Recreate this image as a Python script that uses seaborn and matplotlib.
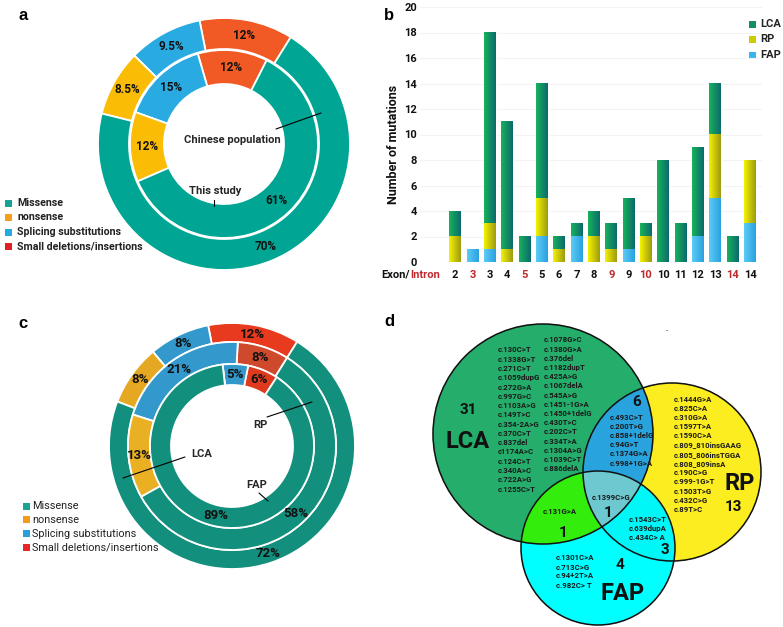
import numpy as np
import pandas as pd
import matplotlib
matplotlib.use("Agg")
import matplotlib.pyplot as plt
from matplotlib.patches import Rectangle, Circle
from matplotlib.colors import LinearSegmentedColormap, to_rgba
import seaborn as sns

sns.set_theme(style="white")
plt.rcParams["font.family"] = ["Roboto", "DejaVu Sans"]

W, H = 783, 627

# ---------------- data ----------------
mut_types = ["Missense", "nonsense", "Splicing substitutions", "Small deletions/insertions"]
# percentages in order: missense, nonsense, splicing, small del/ins
chinese_pct = [70, 8.5, 9.5, 12]
study_pct = [61, 12, 15, 12]
lca_pct = [72, 8, 8, 12]
rp_pct = [58, 13, 21, 8]
fap_pct = [89, 0, 5, 6]

exon_labels = ["2", "3", "3", "4", "5", "5", "6", "7", "8", "9", "9", "10", "10", "11", "12", "13", "14", "14"]
is_intron = [0, 1, 0, 0, 1, 0, 0, 0, 0, 1, 0, 1, 0, 0, 0, 0, 1, 0]
lca_n = [2, 0, 15, 10, 2, 9, 1, 1, 2, 2, 4, 1, 8, 3, 7, 4, 2, 0]
rp_n = [2, 0, 2, 1, 0, 3, 1, 0, 2, 1, 0, 2, 0, 0, 0, 5, 0, 5]
fap_n = [0, 1, 1, 0, 0, 2, 0, 2, 0, 0, 1, 0, 0, 0, 2, 5, 0, 3]

venn_lca_only = ["c.130C>T", "c.1338G>T", "c.271C>T", "c.1059dupG", "c.272G>A", "c.997G>C",
                 "c.1103A>G", "c.149T>C", "c.354-2A>G", "c.370C>T", "c.837del", "c1174A>C",
                 "c.124C>T", "c.340A>C", "c.722A>G", "c.1255C>T"]
venn_lca_only2 = ["c.1078G>C", "c.1380G>A", "c.376del", "c.1182dupT", "c.425A>G", "c.1067delA",
                  "c.545A>G", "c.1451-1G>A", "c.1450+1delG", "c.430T>C", "c.202C>T", "c.334T>A",
                  "c.1304A>G", "c.1039C>T", "c.886delA"]
venn_lca_rp = ["c.493C>T", "c.200T>G", "c.858+1delG", "c.94G>T", "c.1374G>A", "c.998+1G>A"]
venn_rp_only = ["c.1444G>A", "c.825C>A", "c.310G>A", "c.1597T>A", "c.1590C>A", "c.809_810insGAAG",
                "c.805_806insTGGA", "c.808_809insA", "c.190C>G", "c.999-1G>T", "c.1503T>G",
                "c.432C>G", "c.89T>C"]
venn_all = ["c.1399C>G"]
venn_lca_fap = ["c.131G>A"]
venn_rp_fap = ["c.1543C>T", "c.639dupA", "c.434C> A"]
venn_fap_only = ["c.1301C>A", "c.713C>G", "c.94+2T>A", "c.982C> T"]
venn_counts = {"lca": 31, "rp": 13, "fap": 4, "lca_rp": 6, "lca_fap": 1, "rp_fap": 3, "all": 1}

# ---------------- figure ----------------
fig = plt.figure(figsize=(W / 100, H / 100), dpi=100)
ov = fig.add_axes([0, 0, 1, 1])
ov.patch.set_visible(False)


def Y(y):
    return H - y


def pct_fmt(p):
    if p < 0.5:
        return ""
    s = f"{p:.1f}".rstrip("0").rstrip(".")
    return s + "%"


def ring(values, colors, center, r_out, width, start, fs):
    vals = values[::-1]
    cols = colors[::-1]
    mid = r_out - width / 2
    wedges, texts, autotexts = ov.pie(
        vals, colors=cols, startangle=start, counterclock=True, radius=r_out,
        center=center, autopct=pct_fmt, pctdistance=mid / r_out,
        wedgeprops=dict(width=width, edgecolor="white", linewidth=1.3),
        textprops=dict(fontsize=fs, fontweight="bold", color="#111111"))
    return wedges


# ---- panel a ----
col_a = ["#00a693", "#fbbc05", "#29abe2", "#f15a24"]
ca = (224, Y(144))
ring(chinese_pct, col_a, ca, 126, 31, 58, 8.5)
ring(study_pct, col_a, ca, 94, 34, 63, 8.5)
ov.text(232, Y(140), "Chinese population", ha="center", va="center", fontsize=8, fontweight="bold")
ov.plot([276, 321], [Y(129), Y(113)], color="black", lw=0.8)
ov.text(215, Y(191), "This study", ha="center", va="center", fontsize=8, fontweight="bold")
ov.plot([214, 214], [Y(200), Y(206)], color="black", lw=0.8)

leg_a = ["#16a394", "#f6a01a", "#27a9e1", "#e31e26"]
for i, (lab, c) in enumerate(zip(mut_types, leg_a)):
    yy = 203 + i * 14.5
    ov.add_patch(Rectangle((5, Y(yy) - 3.5), 7, 7, color=c, lw=0))
    ov.text(17, Y(yy), lab, ha="left", va="center", fontsize=7.7, fontweight="bold", color="#222222")

# ---- panel c ----
cc = (232, Y(446))
ring(lca_pct, ["#138f7d", "#e5a823", "#3399cc", "#e83a1e"], cc, 123, 19, 58, 9.5)
ring(rp_pct, ["#138f7d", "#e9b023", "#3399cc", "#cf4a2d"], cc, 104, 22, 58, 9.5)
ring(fap_pct, ["#138f7d", "#e9b023", "#3399cc", "#e03a1e"], cc, 82, 21, 57, 9.5)
ov.text(260, Y(425), "RP", ha="center", va="center", fontsize=8, fontweight="bold")
ov.plot([267, 312], [Y(417), Y(402)], color="black", lw=0.8)
ov.text(202, Y(454), "LCA", ha="center", va="center", fontsize=8, fontweight="bold")
ov.plot([185, 123], [Y(457), Y(478)], color="black", lw=0.8)
ov.text(257, Y(485), "FAP", ha="center", va="center", fontsize=8, fontweight="bold")
ov.plot([259, 268], [Y(493), Y(501)], color="black", lw=0.8)

leg_c = ["#1aa390", "#f39a1e", "#27a0dc", "#e6262b"]
for i, (lab, c) in enumerate(zip(mut_types, leg_c)):
    yy = 506 + i * 13.8
    ov.add_patch(Rectangle((23, Y(yy) - 3.5), 7, 7, color=c, lw=0))
    ov.text(32, Y(yy), lab, ha="left", va="center", fontsize=7.8, color="#222222")

# ---- panel d (Venn) ----
lca_c = (543, Y(434), 110)
rp_c = (672, Y(472), 89)
fap_c = (598, Y(548), 77)
x0, x1, y0, y1 = 420, 783, 0, 327
nx, ny = 726, 654
xs = x0 + (np.arange(nx) + 0.5) * (x1 - x0) / nx
ys = y0 + (np.arange(ny) + 0.5) * (y1 - y0) / ny
XX, YY = np.meshgrid(xs, ys)


def inside(c):
    return (XX - c[0]) ** 2 + (YY - c[1]) ** 2 <= c[2] ** 2


mL, mR, mF = inside(lca_c), inside(rp_c), inside(fap_c)
img = np.zeros((ny, nx, 4))
regions = [
    (mL & ~mR & ~mF, "#25ad6c"),
    (mR & ~mL & ~mF, "#fcee21"),
    (mF & ~mL & ~mR, "#00ffff"),
    (mL & mR & ~mF, "#29a3de"),
    (mL & mF & ~mR, "#33ee0c"),
    (mR & mF & ~mL, "#00f7f7"),
    (mL & mR & mF, "#6dc8cf"),
]
for m, c in regions:
    img[m] = to_rgba(c)
ov.imshow(img, extent=[x0, x1, y0, y1], origin="lower", interpolation="antialiased", zorder=1)
for c in (lca_c, rp_c, fap_c):
    ov.add_patch(Circle((c[0], c[1]), c[2], fill=False, ec="#111111", lw=1.1, zorder=2))


def vlist(items, x, y, dy=9.2, fs=5.6):
    for i, s in enumerate(items):
        ov.text(x, Y(y + i * dy), s, ha="left", va="center", fontsize=fs, fontweight="bold",
                color="#1a1a1a", zorder=3)


vlist(venn_lca_only, 498, 350, 9.27)
vlist(venn_lca_only2, 544, 340, 9.2)
vlist(venn_lca_rp, 610, 417)
vlist(venn_rp_only, 674, 399)
vlist(venn_rp_fap, 629, 519, 9.0)
vlist(venn_fap_only, 556, 558, 9.0)
ov.text(611, Y(497), venn_all[0], ha="center", va="center", fontsize=5.6, fontweight="bold", color="#1a1a1a", zorder=3)
ov.text(560, Y(512), venn_lca_fap[0], ha="center", va="center", fontsize=5.6, fontweight="bold", color="#1a1a1a", zorder=3)

num_kw = dict(ha="center", va="center", fontsize=11, fontweight="bold", color="#111111", zorder=3)
ov.text(468, Y(410), str(venn_counts["lca"]), **num_kw)
ov.text(733, Y(507), str(venn_counts["rp"]), **num_kw)
ov.text(620, Y(565), str(venn_counts["fap"]), **num_kw)
ov.text(637, Y(402), str(venn_counts["lca_rp"]), **num_kw)
ov.text(563, Y(533), str(venn_counts["lca_fap"]), **num_kw)
ov.text(665, Y(550), str(venn_counts["rp_fap"]), **num_kw)
ov.text(608, Y(513), str(venn_counts["all"]), **num_kw)
big_kw = dict(ha="center", va="center", fontsize=17, fontweight="bold", color="#111111", zorder=3)
ov.text(468, Y(442), "LCA", **big_kw)
ov.text(740, Y(483), "RP", **big_kw)
ov.text(623, Y(593), "FAP", **big_kw)
ov.text(667, Y(331), "-", ha="center", va="center", fontsize=6, color="#333333")

# panel letters
for lab, (x, y) in zip("abcd", [(23, 16), (389, 16), (23, 323), (389, 321)]):
    ov.text(x, Y(y), lab, ha="center", va="center", fontsize=12, fontweight="bold",
            family=["Liberation Sans", "DejaVu Sans"], color="black")

ov.set_xlim(0, W)
ov.set_ylim(0, H)
ov.set_aspect("auto")
ov.set_axis_off()

# ---- panel b (stacked bars) ----
keys = [("I" if t else "E") + l for l, t in zip(exon_labels, is_intron)]
df = pd.DataFrame({
    "pos": keys,
    "total": np.array(lca_n) + np.array(rp_n) + np.array(fap_n),
    "rp_fap": np.array(rp_n) + np.array(fap_n),
    "fap": np.array(fap_n),
})
axb = fig.add_axes([420 / W, (H - 262) / H, 342 / W, 255 / H])
axb.patch.set_visible(False)
grads = [("#17b35b", "#0b6a6e"), ("#f5f200", "#9c9a12"), ("#5ccbf6", "#2aa2df")]
for col, (c1, c2) in zip(["total", "rp_fap", "fap"], grads):
    sns.barplot(data=df, x="pos", y=col, order=keys, color=c1, width=0.68,
                errorbar=None, saturation=1, ax=axb)
gx = np.linspace(0, 1, 64)[None, :]
for k, (cont, (c1, c2)) in enumerate(zip(axb.containers, grads)):
    cmap = LinearSegmentedColormap.from_list(f"g{k}", [c1, c2])
    for rect in cont:
        h = rect.get_height()
        if h > 0:
            bx, by = rect.get_xy()
            axb.imshow(gx, extent=[bx, bx + rect.get_width(), by, by + h], cmap=cmap,
                       aspect="auto", zorder=3 + k, interpolation="bilinear")
axb.set_xlim(-2.02, 17.69)
axb.set_ylim(0, 20)
axb.set_yticks(range(0, 21, 2))
axb.set_xticks(range(len(keys)))
axb.set_xticklabels(exon_labels)
for t, intr in zip(axb.get_xticklabels(), is_intron):
    t.set_color("#c0282d" if intr else "#111111")
    t.set_fontweight("bold")
    t.set_fontsize(8)
for t in axb.get_yticklabels():
    t.set_fontweight("bold")
    t.set_fontsize(8)
    t.set_color("#111111")
axb.tick_params(axis="x", length=0, pad=6)
axb.tick_params(axis="y", length=0, pad=2)
axb.grid(axis="y", color="#f3f3f3", lw=0.8, zorder=0)
axb.set_axisbelow(True)
for s in axb.spines.values():
    s.set_visible(False)
axb.set_xlabel("")
axb.set_ylabel("")
fig.text(394 / W, (H - 144) / H, "Number of mutations", rotation=90, ha="center", va="center",
         fontsize=9, fontweight="bold", color="#111111")
fig.text(410 / W, (H - 275) / H, "Exon/", ha="right", va="center", fontsize=8,
         fontweight="bold", color="#111111")
fig.text(410 / W, (H - 275) / H, "Intron", ha="left", va="center", fontsize=8,
         fontweight="bold", color="#c0282d")
for i, (lab, c) in enumerate(zip(["LCA", "RP", "FAP"], ["#129060", "#cccc05", "#3ab4ec"])):
    yy = 24 + i * 15.5
    ov.add_patch(Rectangle((749, Y(yy) - 3.5), 7, 7, color=c, lw=0))
    ov.text(760, Y(yy), lab, ha="left", va="center", fontsize=8, fontweight="bold", color="#222222")

fig.savefig("out.png", dpi=100)
